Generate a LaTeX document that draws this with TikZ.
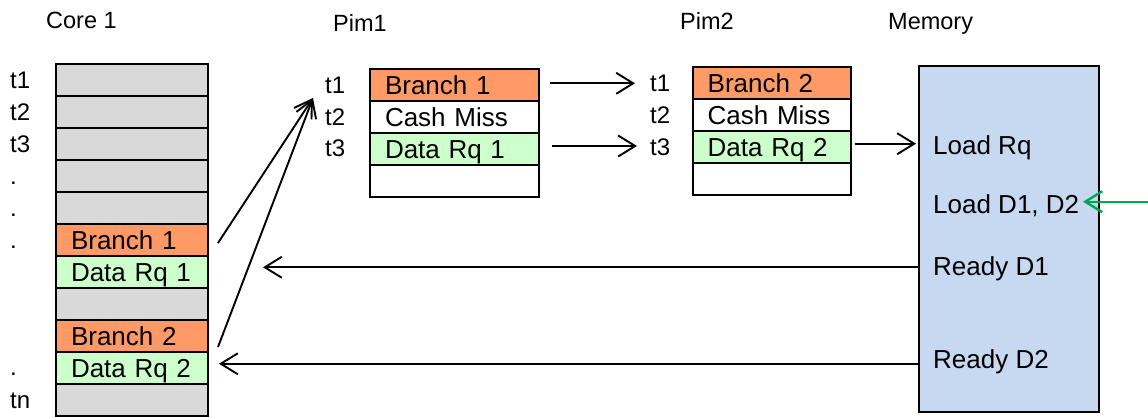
\documentclass[tikz,border=0pt]{standalone}
\usepackage{fontspec}
\setmainfont{Liberation Sans}
\usetikzlibrary{arrows.meta}
\definecolor{cellgray}{HTML}{D9D9D9}
\definecolor{cellorange}{HTML}{FF9966}
\definecolor{cellgreen}{HTML}{CCFFCC}
\definecolor{memblue}{HTML}{C6D9F1}
\definecolor{loadgreen}{HTML}{00A651}
\begin{document}
\begin{tikzpicture}[x=1bp,y=-1bp,
  cell/.style={draw=black, line width=2bp, anchor=north west, outer sep=0pt,
    minimum height=32bp, inner xsep=15bp, inner ysep=0pt,
    text height=18.6bp, text depth=0pt, align=left,
    font=\fontsize{26bp}{31bp}\selectfont},
  corecell/.style={cell, text width=122bp},
  pimacell/.style={cell, text width=139bp},
  pimbcell/.style={cell, text width=128bp},
  tlbl/.style={inner sep=0pt, anchor=base west, font=\fontsize{24bp}{28bp}\selectfont},
  hdr/.style={inner sep=0pt, anchor=base west, font=\fontsize{23.5bp}{28bp}\selectfont},
  memlbl/.style={inner sep=0pt, anchor=base west, font=\fontsize{26bp}{31bp}\selectfont},
  arr/.style={line width=1.9bp, -{Straight Barb[length=17bp,width=21bp]}}
]
\useasboundingbox (0,0) rectangle (1148,416);

% column headers
\node[hdr] (hcore) at (46,28.3) {Core 1};
\node[hdr] (hpim1) at (333,31.7) {Pim1};
\node[hdr] (hpim2) at (680,29.3) {Pim2};
\node[hdr] (hmem)  at (888,29.3) {Memory};

% core time line
\node[corecell, fill=cellgray]   (c1)  at (56,64)  {};
\node[corecell, fill=cellgray]   (c2)  at (56,96)  {};
\node[corecell, fill=cellgray]   (c3)  at (56,128) {};
\node[corecell, fill=cellgray]   (c4)  at (56,160) {};
\node[corecell, fill=cellgray]   (c5)  at (56,192) {};
\node[corecell, fill=cellorange] (c6)  at (56,224) {Branch 1};
\node[corecell, fill=cellgreen]  (c7)  at (56,256) {Data Rq 1};
\node[corecell, fill=cellgray]   (c8)  at (56,288) {};
\node[corecell, fill=cellorange] (c9)  at (56,320) {Branch 2};
\node[corecell, fill=cellgreen]  (c10) at (56,352) {Data Rq 2};
\node[corecell, fill=cellgray]   (c11) at (56,384) {};

\node[tlbl] (ct1) at (10,88.3)  {t1};
\node[tlbl] (ct2) at (10,120.3) {t2};
\node[tlbl] (ct3) at (10,152.3) {t3};
\node[tlbl] (cd1) at (10,184.3) {.};
\node[tlbl] (cd2) at (10,216.3) {.};
\node[tlbl] (cd3) at (10,248.3) {.};
\node[tlbl] (cd4) at (10,375.5) {.};
\node[tlbl] (ctn) at (10,408.3) {tn};

% Pim1 table
\node[pimacell, fill=cellorange] (p1r1) at (370,69)  {Branch 1};
\node[pimacell, fill=white]      (p1r2) at (370,101) {Cash Miss};
\node[pimacell, fill=cellgreen]  (p1r3) at (370,133) {Data Rq 1};
\node[pimacell, fill=white]      (p1r4) at (370,165) {};
\node[tlbl] (pt1) at (325,93.3)  {t1};
\node[tlbl] (pt2) at (325,125)   {t2};
\node[tlbl] (pt3) at (325,156.7) {t3};

% Pim2 table
\node[pimbcell, fill=cellorange] (p2r1) at (692.7,66.7) {Branch 2};
\node[pimbcell, fill=white]      (p2r2) at (692.7,98.7) {Cash Miss};
\node[pimbcell, fill=cellgreen]  (p2r3) at (692.7,130.7) {Data Rq 2};
\node[pimbcell, fill=white]      (p2r4) at (692.7,162.7) {};
\node[tlbl] (qt1) at (650,91.7)  {t1};
\node[tlbl] (qt2) at (650,123.3) {t2};
\node[tlbl] (qt3) at (650,155)   {t3};

% memory
\node[draw=black, line width=2bp, fill=memblue, anchor=north west, outer sep=0pt,
      inner sep=0pt, minimum width=180bp, minimum height=346bp] (mem) at (919,66) {};
\node[memlbl] (lrq) at (933,154)   {Load Rq};
\node[memlbl] (ld)  at (933,213.5) {Load D1, D2};
\node[memlbl] (rd1) at (933,275)   {Ready D1};
\node[memlbl] (rd2) at (933,368.5) {Ready D2};

% branches sent from the core to Pim1
\draw[arr] ([xshift=10bp,yshift=-3bp]c6.east) -- ([xshift=-12bp,yshift=-4.7bp]pt1.base west);
\draw[arr] ([xshift=10bp,yshift=5bp]c9.south east) -- ([xshift=-12bp,yshift=-4.7bp]pt1.base west);

% Pim1 to Pim2
\draw[arr] ([xshift=11bp,yshift=1.7bp]p1r1.east) coordinate (a1) -- ([xshift=-15bp]qt1.west |- a1);
\draw[arr] ([xshift=13bp,yshift=3bp]p1r3.east) coordinate (a3) -- ([xshift=-13bp]qt3.west |- a3);

% Pim2 to memory
\draw[arr] ([xshift=4bp,yshift=3bp]p2r3.east) coordinate (a4) -- ([xshift=-3bp]mem.west |- a4);

% data returned to the core
\draw[arr] ([yshift=1bp]mem.west |- rd1) coordinate (b1) -- ([xshift=55bp]c7.east |- b1);
\draw[arr] ([yshift=-2bp]mem.west |- rd2) coordinate (b2) -- ([xshift=11bp]c10.east |- b2);

% incoming load
\coordinate (gin) at (1148,201.7);
\draw[arr, line width=2.4bp, draw=loadgreen] (gin) -- ([xshift=-16bp]mem.east |- gin);
\end{tikzpicture}
\end{document}
